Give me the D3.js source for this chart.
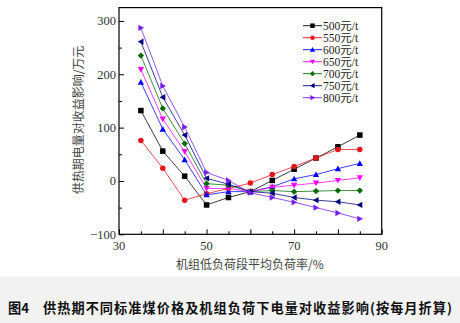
<!DOCTYPE html>
<html><head><meta charset="utf-8">
<script src="https://cdn.jsdelivr.net/npm/d3@7"></script>
<style>body{margin:0;background:#fff}svg{display:block}</style>
</head><body>
<svg id="c" width="460" height="323"></svg>
<script>
const xValues = [35, 40, 45, 50, 55, 60, 65, 70, 75, 80, 85];
const seriesNames = ["500元/t", "550元/t", "600元/t", "650元/t", "700元/t", "750元/t", "800元/t"];
const s500 = [132, 56, 9, -45, -31, -20, 1, 22, 43, 64, 86];
const s550 = [76, 24, -36, -24, -14, -4, 12, 27, 43, 59, 59];
const s600 = [185, 97, 40, -26, -20, -20, -11, 4, 12, 23, 33];
const s650 = [209, 116, 55, -14, -14, -20, -12, -8, -4, 1, 6];
const s700 = [235, 136, 70, -5, -8, -20, -18, -20, -19, -18, -18];
const s750 = [261, 157, 86, 5, -6, -20, -23, -31, -36, -39, -45];
const s800 = [287, 178, 101, 16, 1, -22, -31, -40, -50, -60, -71];
const xTickLabels = [30, 50, 70, 90];
const yTickLabels = [-100, 0, 100, 200, 300];
const xTitle = "机组低负荷段平均负荷率/%";
const yTitle = "供热期电量对收益影响/万元";
const caption = "供热期不同标准煤价格及机组负荷下电量对收益影响(按每月折算)";
const figNo = "图4";

const allSeries = [s500, s550, s600, s650, s700, s750, s800];
const colors = ["#000000", "#e8141c", "#0000ff", "#ff00ff", "#006a00", "#000080", "#7a1cf0"];
const symbols = ["square", "circle", "up", "down", "diamond", "left", "right"];

const svg = d3.select("#c");
const L = 119, R = 381.7, T = 7.6, B = 234.3;
const x = d3.scaleLinear().domain([30, 90]).range([L, R]);
const y = d3.scaleLinear().domain([-100, 325]).range([B, T]);

// caption band
svg.append("rect").attr("x", 0).attr("y", 277).attr("width", 460).attr("height", 46).attr("fill", "#f2f2f2");
svg.append("text").attr("x", 8).attr("y", 313).attr("font-family", "Noto Sans CJK SC").attr("font-weight", "bold")
  .attr("font-size", 13.2).attr("fill", "#111").text(figNo);
svg.append("text").attr("x", 43).attr("y", 313).attr("font-family", "Noto Sans CJK SC").attr("font-weight", "bold")
  .attr("font-size", 13.2).attr("fill", "#111").attr("textLength", 409).text(caption);

// axes
const xAxis = d3.axisBottom(x).tickValues(d3.range(30, 91, 5)).tickSize(-3).tickFormat(() => "");
const gx = svg.append("g").attr("transform", `translate(0,${B})`).call(xAxis);
gx.selectAll(".tick line").attr("y2", d => (d % 10 === 0 ? -5 : -3)).attr("stroke", "#000");
gx.select(".domain").remove();
const yAxis = d3.axisLeft(y).tickValues(d3.range(-100, 301, 50)).tickSize(-3).tickFormat(() => "");
const gy = svg.append("g").attr("transform", `translate(${L},0)`).call(yAxis);
gy.selectAll(".tick line").attr("x2", d => (d % 100 === 0 ? 5 : 3)).attr("stroke", "#000");
gy.select(".domain").remove();

svg.append("rect").attr("x", L).attr("y", T).attr("width", R - L).attr("height", B - T)
  .attr("fill", "none").attr("stroke", "#000").attr("stroke-width", 1.2);

svg.selectAll(".xl").data(xTickLabels).enter().append("text")
  .attr("x", d => x(d)).attr("y", 250).attr("text-anchor", "middle")
  .attr("font-family", "Liberation Serif").attr("font-size", 12.5).attr("fill", "#333").text(d => d);
svg.selectAll(".yl").data(yTickLabels).enter().append("text")
  .attr("x", 116).attr("y", d => y(d) + 4.3).attr("text-anchor", "end")
  .attr("font-family", "Liberation Serif").attr("font-size", 12.5).attr("fill", "#333")
  .text(d => d < 0 ? "\u2212" + Math.abs(d) : d);

svg.append("text").attr("x", 250).attr("y", 269).attr("text-anchor", "middle")
  .attr("font-family", "Noto Sans CJK SC").attr("font-size", 12).attr("fill", "#444").text(xTitle);
svg.append("text").attr("transform", "translate(83,120) rotate(-90)").attr("text-anchor", "middle")
  .attr("font-family", "Noto Sans CJK SC").attr("font-size", 12).attr("fill", "#444").text(yTitle);

function marker(g, type, cx, cy, color, s) {
  const h = s / 2;
  let el;
  if (type === "square") el = g.append("rect").attr("x", cx - h).attr("y", cy - h).attr("width", s).attr("height", s);
  else if (type === "circle") el = g.append("circle").attr("cx", cx).attr("cy", cy).attr("r", h);
  else {
    let pts;
    const k = h * 1.15;
    if (type === "up") pts = [[cx, cy - k], [cx - k, cy + k * 0.8], [cx + k, cy + k * 0.8]];
    if (type === "down") pts = [[cx, cy + k], [cx - k, cy - k * 0.8], [cx + k, cy - k * 0.8]];
    if (type === "left") pts = [[cx - k, cy], [cx + k * 0.8, cy - k], [cx + k * 0.8, cy + k]];
    if (type === "right") pts = [[cx + k, cy], [cx - k * 0.8, cy - k], [cx - k * 0.8, cy + k]];
    if (type === "diamond") pts = [[cx, cy - k], [cx + k, cy], [cx, cy + k], [cx - k, cy]];
    el = g.append("polygon").attr("points", pts.map(p => p.join(",")).join(" "));
  }
  el.attr("fill", color);
}

const line = d3.line().x((d, i) => x(xValues[i])).y(d => y(d));
allSeries.forEach((s, k) => {
  const g = svg.append("g");
  g.append("path").attr("d", line(s)).attr("fill", "none").attr("stroke", colors[k]).attr("stroke-width", 0.9).attr("opacity", 0.85);
  s.forEach((v, i) => marker(g, symbols[k], x(xValues[i]), y(v), colors[k], 5.5));
});

// legend
seriesNames.forEach((n, k) => {
  const ly = 25.7 + k * 12;
  const g = svg.append("g");
  g.append("line").attr("x1", 303).attr("x2", 322).attr("y1", ly).attr("y2", ly).attr("stroke", colors[k]).attr("stroke-width", 0.9);
  marker(g, symbols[k], 312.5, ly, colors[k], 4.5);
  g.append("text").attr("x", 323).attr("y", ly + 4).attr("font-family", "Liberation Serif, Noto Sans CJK SC")
    .attr("font-size", 11.5).attr("fill", "#222").text(n);
});
</script>
</body></html>
